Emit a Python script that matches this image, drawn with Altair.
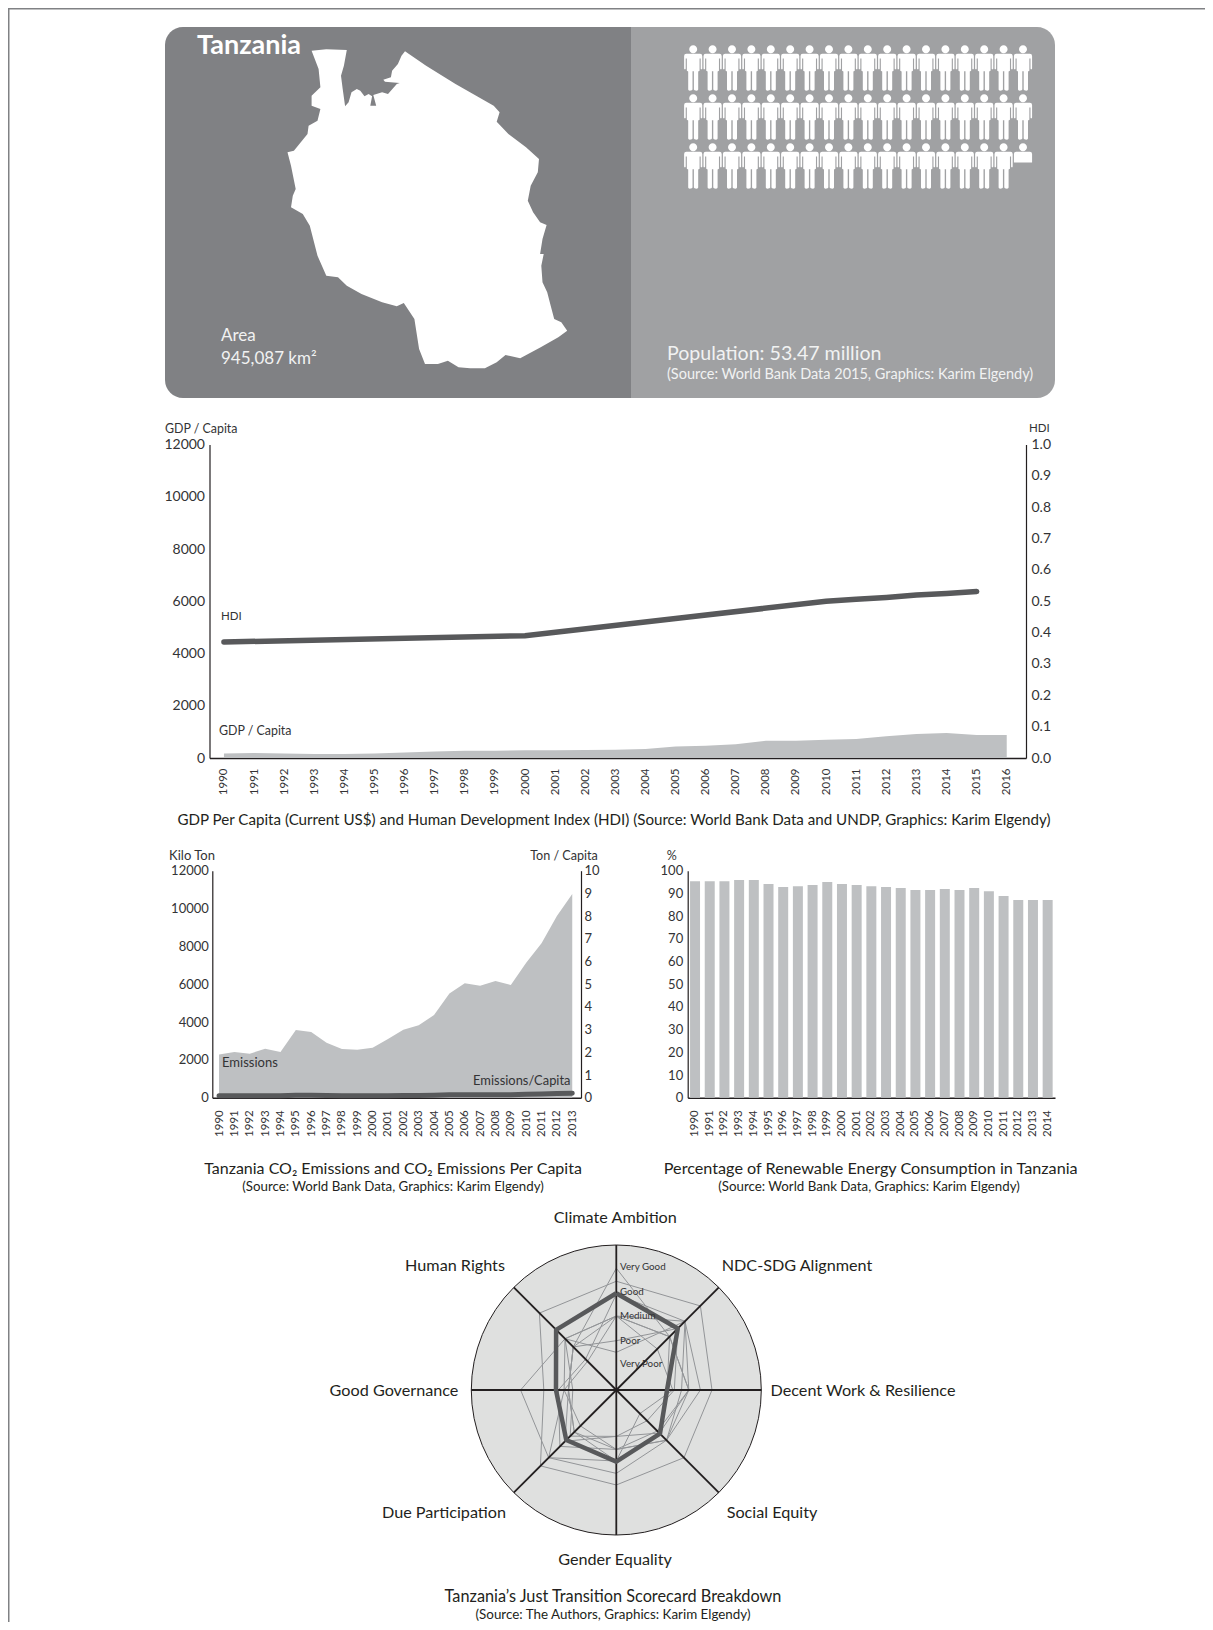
import altair as alt
import pandas as pd

# ---------- data ----------
POPULATION = 53.47
ICON_COLUMNS = 18

MAP_X = [275,300,335,330,325,328,332,338,343,352,358,365,372,378,375,385,380,395,405,420,425,400,397,410,412,422,428,434,470,520,585,595,590,610,640,662,660,648,643,652,664,675,668,664,670,666,668,676,682,688,700,710,695,665,630,605,590,570,545,525,507,490,468,458,450,432,420,395,360,335,320,300,285,272,260,240,243,248,240,234,245,268,270,285,290,275,275,290,287]
MAP_Y = [125,121,123,170,200,240,292,280,250,240,245,262,255,262,290,290,258,250,255,225,222,218,212,205,185,165,140,127,170,225,290,310,338,375,415,450,490,530,575,610,640,648,690,735,735,770,820,850,890,930,940,965,985,1015,1048,1038,1060,1078,1078,1075,1055,1065,1065,1020,930,882,892,880,855,830,805,800,740,650,615,595,560,540,470,430,425,375,350,335,300,290,260,235,180]

GDP_YEARS = list(range(1990, 2017))
GDP_VALUES = [170,190,170,150,155,175,210,250,280,280,300,300,310,320,340,440,470,530,660,665,700,730,830,920,960,880,880]
HDI_YEARS = [1990,2000,2005,2010,2011,2012,2013,2014,2015]
HDI_VALUES = [0.37,0.39,0.445,0.50,0.506,0.512,0.52,0.525,0.531]

CO2_YEARS = list(range(1990, 2014))
CO2_VALUES = [2290,2414,2326,2590,2414,3577,3471,2907,2572,2537,2643,3101,3595,3824,4370,5515,6044,5920,6167,5956,7137,8159,9603,10766]
CO2_PC_VALUES = [0.09,0.09,0.09,0.09,0.09,0.11,0.11,0.10,0.09,0.09,0.09,0.09,0.10,0.10,0.11,0.13,0.13,0.13,0.13,0.13,0.15,0.16,0.18,0.20]

RE_YEARS = list(range(1990, 2015))
RE_VALUES = [95.4,95.4,95.4,95.9,95.9,94.1,92.8,93.2,93.7,95.0,94.1,93.7,93.2,92.8,92.4,91.5,91.5,91.9,91.5,92.4,91.0,88.8,87.1,87.1,87.1]

RADAR_LABELS = ["Climate Ambition","NDC-SDG Alignment","Decent Work & Resilience","Social Equity",
                "Gender Equality","Due Participation","Good Governance","Human Rights"]
RADAR_BOLD = [.667,.60,.35,.426,.494,.488,.416,.587]
RADAR_THIN = [
    [.84,.52,.50,.42,.49,.41,.33,.42],
    [.75,.82,.66,.66,.655,.74,.50,.75],
    [.51,.67,.58,.49,.575,.66,.66,.50],
    [.51,.52,.50,.49,.41,.41,.33,.42],
    [.34,.60,.40,.30,.32,.50,.33,.42],
    [.26,.67,.45,.49,.41,.35,.36,.50],
    [.51,.40,.39,.23,.49,.66,.36,.28],
    [.51,.52,.35,.42,.32,.45,.30,.50],
    [.66,.67,.50,.40,.41,.55,.40,.30],
]
RADAR_TIERS = ["Very Good","Good","Medium","Poor","Very Poor"]

# ---------- style ----------
FONT = "Lato"
INK = "#231f20"
TEXT = "#333335"
GREY = "#bec0c2"
DARK = "#58595b"
W, H = 1197, 1614

HEAD = "M0,-1 A.176,.176 0 1 1 0,-.648 A.176,.176 0 1 1 0,-1 Z "
PERSON = HEAD + ("M-.30,-.63 L.30,-.63 Q.40,-.63 .40,-.53 L.40,.02 Q.40,.06 .365,.06 Q.33,.06 .33,.02 L.33,-.42 L.28,-.42 "
                 "L.28,.12 L.22,.15 L.22,.95 Q.22,1 .15,1 Q.03,1 .03,.95 L.03,.14 L-.03,.14 L-.03,.95 Q-.03,1 -.15,1 Q-.22,1 -.22,.95 "
                 "L-.22,.15 L-.28,.12 L-.28,-.42 L-.33,-.42 L-.33,.02 Q-.33,.06 -.365,.06 Q-.40,.06 -.40,.02 L-.40,-.53 Q-.40,-.63 -.30,-.63 Z")
PERSON_PART = HEAD + "M-.30,-.63 L.30,-.63 Q.40,-.63 .40,-.53 L.40,-.15 L-.40,-.15 L-.40,-.53 Q-.40,-.63 -.30,-.63 Z"


def px(v):
    return v - 8


one = pd.DataFrame({"k": [0]})


def label(text, x, y, size=12, color=TEXT, align="center", weight="normal"):
    kw = dict(font=FONT, fontSize=size, color=color, align=align, baseline="middle", fontWeight=weight)
    return alt.Chart(pd.DataFrame({"t": [text]})).mark_text(**kw).encode(
        text="t:N", x=alt.value(px(x)), y=alt.value(px(y + 1)))


def box(x0, x1, y0, y1, color, **kw):
    return alt.Chart(one).mark_rect(color=color, **kw).encode(
        x=alt.value(px(x0)), x2=alt.value(px(x1)), y=alt.value(px(y0)), y2=alt.value(px(y1)))


def yaxis(x, orient, values, fmt, size, pad=4):
    off = -px(x) if orient == "left" else px(x) - W
    return alt.Axis(orient=orient, offset=off, values=values, format=fmt, title=None, grid=False, ticks=False,
                    domainColor=INK, domainWidth=1.2, labelFont=FONT, labelFontSize=size, labelColor=TEXT,
                    labelPadding=pad, labelOverlap=False, labelFlush=False)


def xaxis(y, values, size, pad):
    return alt.Axis(orient="bottom", offset=px(y) - H, values=values, format="d", title=None, grid=False, ticks=False,
                    domainColor=INK, domainWidth=1.4, labelAngle=-90, labelFont=FONT, labelFontSize=size,
                    labelColor=TEXT, labelPadding=pad, labelOverlap=False, labelFlush=False)


def xaxis_band(y, size, pad):
    return alt.Axis(orient="bottom", offset=px(y) - H, title=None, grid=False, ticks=False,
                    domainColor=INK, domainWidth=1.4, labelAngle=-90, labelFont=FONT, labelFontSize=size,
                    labelColor=TEXT, labelPadding=pad, labelOverlap=False, labelFlush=False)


layers = []

# frame of the page (as near to the page edge as the canvas reaches)
layers += [box(8, 1205, 8, 9.5, "#808184"), box(8, 9.5, 8, 1622, "#808184")]

# ---------- banner ----------
layers += [
    box(165, 632, 27, 398, "#808184", cornerRadiusTopLeft=18, cornerRadiusBottomLeft=18),
    box(631, 1055, 27, 398, "#a0a1a3", cornerRadiusTopRight=18, cornerRadiusBottomRight=18),
]
outline = [[round(x / 1.702, 1), round(y / 3, 1)] for x, y in zip(MAP_X, MAP_Y)]
outline.append(outline[0])
feature = {"type": "Feature", "properties": {}, "geometry": {"type": "Polygon", "coordinates": [outline]}}
layers.append(
    alt.Chart(alt.Data(values=[feature])).mark_geoshape(fill="white", stroke=None)
    .project(type="identity", scale=1, translate=[142, 1])
)

whole = int(POPULATION)
icons = pd.DataFrame({"i": list(range(whole + 1))})
icons["col"] = icons["i"] % ICON_COLUMNS
icons["row"] = icons["i"] // ICON_COLUMNS
icon_x = alt.X("col:Q", scale=alt.Scale(domain=[0, 17], range=[px(693.2), px(1023)]), axis=None)
icon_y = alt.Y("row:Q", scale=alt.Scale(domain=[0, 2], range=[px(68), px(166)]), axis=None)
layers.append(alt.Chart(icons[icons.i < whole]).mark_point(shape=PERSON, filled=True, fill="white", opacity=1, size=2061, strokeWidth=0)
              .encode(x=icon_x, y=icon_y))
layers.append(alt.Chart(icons[icons.i == whole]).mark_point(shape=PERSON_PART, filled=True, fill="white", opacity=1, size=2061, strokeWidth=0)
              .encode(x=icon_x, y=icon_y))
BANNER = "#f1f2f2"
layers += [
    label("Tanzania", 197, 45, 27, "#ffffff", "left", "bold"),
    label("Area", 221, 335, 17, BANNER, "left"),
    label("945,087 km²", 221, 358, 17, BANNER, "left"),
    label("Population: 53.47 million", 667, 353, 19.6, BANNER, "left"),
    label("(Source: World Bank Data 2015, Graphics: Karim Elgendy)", 667, 374, 14.5, BANNER, "left"),
]

# ---------- GDP / HDI ----------
gdp_x = alt.Scale(domain=[1989.52, 2016.64], range=[px(209.5), px(1026)])
gdp_df = pd.DataFrame({"year": GDP_YEARS, "gdp": GDP_VALUES})
hdi_df = pd.DataFrame({"year": HDI_YEARS, "hdi": HDI_VALUES})
gdp_y = alt.Scale(domain=[0, 12000], range=[px(758), px(444.5)])
hdi_y = alt.Scale(domain=[0, 1], range=[px(758), px(444.5)])
layers.append(alt.Chart(gdp_df).mark_area(color=GREY, opacity=1).encode(
    x=alt.X("year:Q", scale=gdp_x, axis=xaxis(758, GDP_YEARS, 11.5, 10)),
    y=alt.Y("gdp:Q", scale=gdp_y, axis=yaxis(209.5, "left", [0, 2000, 4000, 6000, 8000, 10000, 12000], "d", 14, 5)),
))
layers.append(alt.Chart(hdi_df).mark_line(color=DARK, strokeWidth=5.5, strokeCap="round").encode(
    x=alt.X("year:Q", scale=gdp_x, axis=None),
    y=alt.Y("hdi:Q", scale=hdi_y, axis=yaxis(1026, "right", [i / 10 for i in range(11)], ".1f", 14, 5)),
))
layers += [
    label("GDP / Capita", 165, 428, 12.4, TEXT, "left"),
    label("HDI", 1029, 428, 11.5, TEXT, "left"),
    label("HDI", 221, 616, 11.5, TEXT, "left"),
    label("GDP / Capita", 219, 730, 12.4, TEXT, "left"),
    label("GDP Per Capita (Current US$) and Human Development Index (HDI) (Source: World Bank Data and UNDP, Graphics: Karim Elgendy)",
          614, 819, 15.15, INK),
]

# ---------- CO2 ----------
co2_x = alt.Scale(domain=[1989.56, 2013.57], range=[px(212.3), px(581)])
co2_df = pd.DataFrame({"year": CO2_YEARS, "co2": CO2_VALUES, "pc": CO2_PC_VALUES})
layers.append(alt.Chart(co2_df).mark_area(color=GREY, opacity=1).encode(
    x=alt.X("year:Q", scale=co2_x, axis=xaxis(1097.7, CO2_YEARS, 11.5, 12)),
    y=alt.Y("co2:Q", scale=alt.Scale(domain=[0, 12000], range=[px(1097.7), px(870.7)]),
            axis=yaxis(212.3, "left", [0, 2000, 4000, 6000, 8000, 10000, 12000], "d", 13, 4)),
))
layers.append(alt.Chart(co2_df).mark_line(color=DARK, strokeWidth=5, strokeCap="round").encode(
    x=alt.X("year:Q", scale=co2_x, axis=None),
    y=alt.Y("pc:Q", scale=alt.Scale(domain=[0, 10], range=[px(1097.7), px(870.7)]),
            axis=yaxis(581, "right", list(range(11)), "d", 13, 3)),
))
layers += [
    label("Kilo Ton", 192, 855, 13),
    label("Ton / Capita", 564, 855, 12.6),
    label("Emissions", 222, 1062, 13, TEXT, "left"),
    label("Emissions/Capita", 570.5, 1080, 12.9, TEXT, "right"),
    label("Tanzania CO₂ Emissions and CO₂ Emissions Per Capita", 393, 1168, 16, INK),
    label("(Source: World Bank Data, Graphics: Karim Elgendy)", 393, 1186, 13.3, INK),
]

# ---------- renewables ----------
re_df = pd.DataFrame({"year": RE_YEARS, "re": RE_VALUES})
layers.append(alt.Chart(re_df).mark_bar(color=GREY, opacity=1).encode(
    x=alt.X("year:O", scale=alt.Scale(range=[px(687.7), px(1055)], paddingInner=0.32, paddingOuter=0.16),
            axis=xaxis_band(1097.7, 11.5, 12)),
    y=alt.Y("re:Q", scale=alt.Scale(domain=[0, 100], range=[px(1097.7), px(870.7)]),
            axis=yaxis(687.7, "left", list(range(0, 101, 10)), "d", 13, 5)),
))
layers += [
    label("%", 671.7, 855, 12.5),
    label("Percentage of Renewable Energy Consumption in Tanzania", 870.7, 1168, 16.2, INK),
    label("(Source: World Bank Data, Graphics: Karim Elgendy)", 869, 1186, 13.3, INK),
]

# ---------- radar ----------
rad_x = alt.Scale(domain=[-1, 1], range=[px(471.3), px(761.3)])
rad_y = alt.Scale(domain=[-1, 1], range=[px(1535), px(1245)])
RX = alt.X("px:Q", scale=rad_x, axis=None)
RY = alt.Y("py:Q", scale=rad_y, axis=None)


def radar_table(rows):
    out = []
    for s, scores in enumerate(rows):
        for i, v in enumerate(list(scores) + [scores[0]]):
            out.append({"s": s, "i": i, "v": v})
    return pd.DataFrame(out)


def radar_layer(table, **mark):
    return (alt.Chart(table)
            .transform_calculate(px="datum.v*sin(datum.i*PI/4)", py="datum.v*cos(datum.i*PI/4)")
            .mark_line(strokeJoin="round", **mark)
            .encode(x=RX, y=RY, detail="s:N", order="i:Q"))


layers.append(alt.Chart(pd.DataFrame({"px": [0], "py": [0]})).mark_point(
    filled=True, shape="circle", size=84100, fill="#dfe0df", stroke=INK, strokeWidth=1, opacity=1
).encode(x=RX, y=RY))
spokes = pd.DataFrame([{"s": a, "i": a, "v": v} for a in range(8) for v in (0, 1)])
layers.append(radar_layer(radar_table(RADAR_THIN), color="#939598", strokeWidth=1))
layers.append(alt.Chart(spokes)
              .transform_calculate(px="datum.v*sin(datum.i*PI/4)", py="datum.v*cos(datum.i*PI/4)")
              .mark_line(color=INK, strokeWidth=1.8)
              .encode(x=RX, y=RY, detail="s:N", order="v:Q"))
layers.append(radar_layer(radar_table([RADAR_BOLD]), color=DARK, strokeWidth=4.5))
for name, y in zip(RADAR_TIERS, [1266.7, 1291.7, 1316, 1340.7, 1364]):
    layers.append(label(name, 620, y - 1, 9.8, TEXT, "left"))
for name, x, y in zip(RADAR_LABELS, [615.3, 797, 863, 772, 615, 444, 394, 455],
                      [1217, 1265, 1390, 1512, 1559, 1512, 1390, 1265]):
    layers.append(label(name, x, y, 16.2, INK))
layers += [
    label("Tanzania’s Just Transition Scorecard Breakdown", 613, 1596, 16.3, INK),
    label("(Source: The Authors, Graphics: Karim Elgendy)", 613, 1614, 13.4, INK),
]

chart = (
    alt.layer(*layers)
    .resolve_scale(x="independent", y="independent")
    .resolve_axis(x="independent", y="independent")
    .properties(width=W, height=H, padding=0, background="white",
                autosize=alt.AutoSizeParams(type="none", contains="padding"))
    .configure_view(stroke=None)
)

chart.save("out.html", embed_options={"renderer": "svg", "actions": False})
